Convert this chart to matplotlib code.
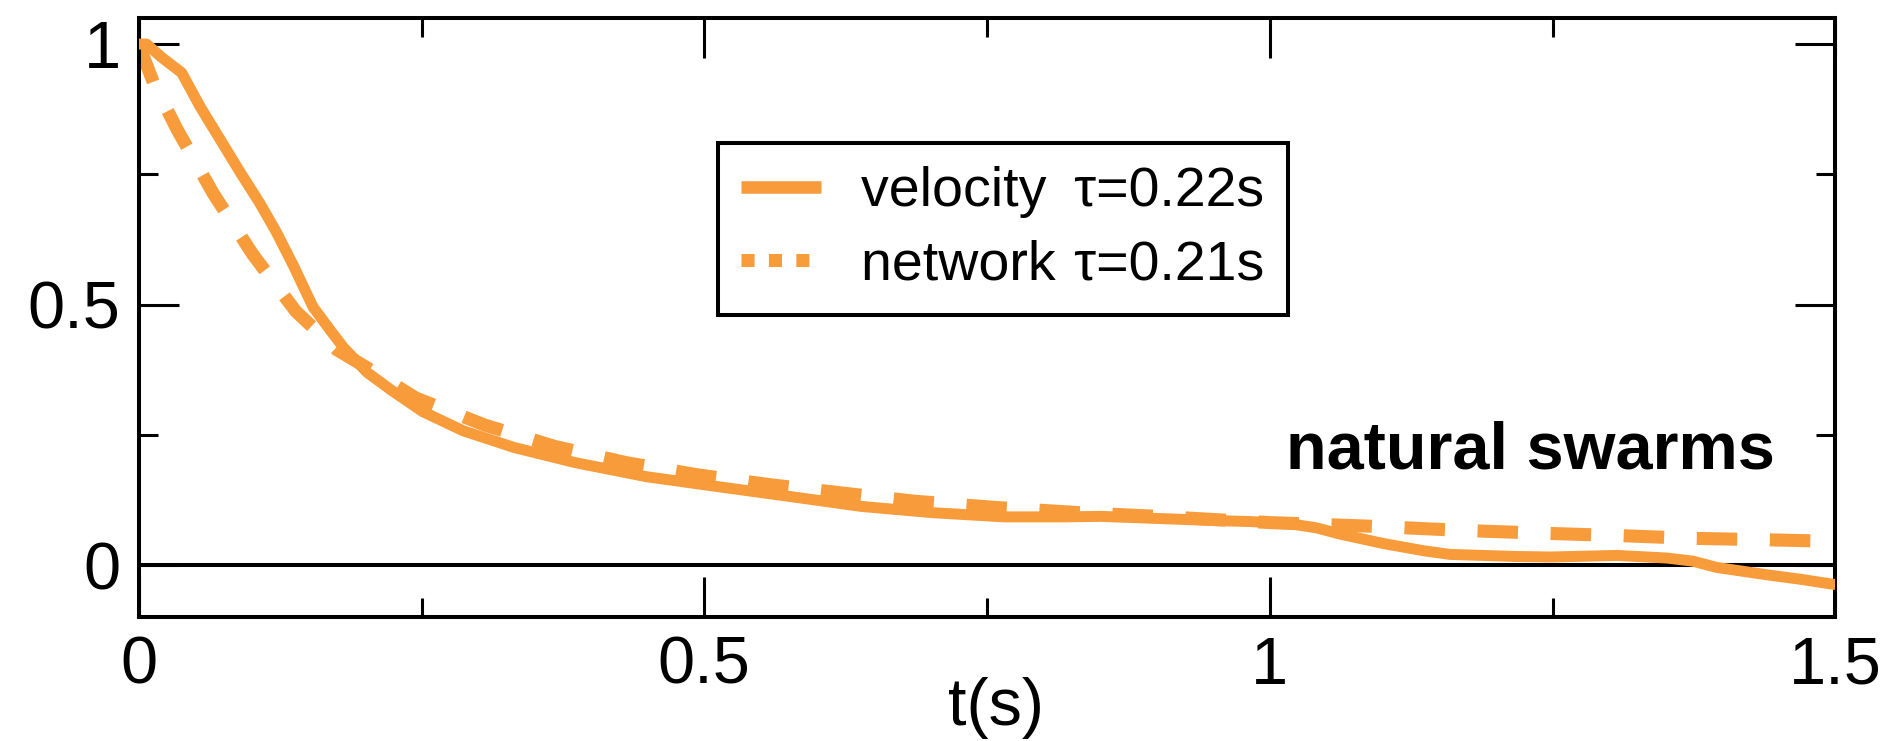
import matplotlib
matplotlib.use('Agg')
import matplotlib.pyplot as plt
from matplotlib.lines import Line2D

plt.rcParams['font.family'] = ['Liberation Sans', 'DejaVu Sans']

# values
t_vel = [0, 0.007, 0.02, 0.038, 0.054, 0.072, 0.09, 0.107, 0.122, 0.137, 0.154,
         0.169, 0.181, 0.202, 0.224, 0.251, 0.287, 0.332, 0.386, 0.449, 0.512,
         0.576, 0.639, 0.702, 0.765, 0.819, 0.85, 0.90, 0.95, 0.983, 1.02, 1.041,
         1.062, 1.10, 1.136, 1.159, 1.218, 1.248, 1.307, 1.351, 1.374, 1.395,
         1.439, 1.47, 1.5]
c_vel = [1.0, 1.0, 0.975, 0.945, 0.881, 0.817, 0.753, 0.695, 0.638, 0.574, 0.496,
         0.452, 0.418, 0.37, 0.335, 0.295, 0.258, 0.226, 0.197, 0.170, 0.151,
         0.132, 0.113, 0.101, 0.093, 0.093, 0.094, 0.09, 0.086, 0.084, 0.079, 0.072,
         0.060, 0.042, 0.028, 0.021, 0.017, 0.016, 0.019, 0.014, 0.008, -0.004,
         -0.018, -0.027, -0.037]

t_net = [0, 0.013, 0.034, 0.066, 0.101, 0.139, 0.175, 0.205, 0.245, 0.306, 0.368,
         0.431, 0.493, 0.557, 0.621, 0.686, 0.758, 0.832, 0.9, 1.0, 1.09, 1.17,
         1.25, 1.31, 1.37, 1.44, 1.5]
c_net = [1.0, 0.926, 0.836, 0.713, 0.596, 0.487, 0.414, 0.375, 0.321, 0.269, 0.228,
         0.197, 0.174, 0.155, 0.139, 0.123, 0.111, 0.101, 0.094, 0.082, 0.075, 0.067,
         0.061, 0.057, 0.052, 0.049, 0.046]

labels = ['velocity\u2002\u03c4=0.22s', 'network\u2004\u03c4=0.21s']
xticks = [0, 0.5, 1, 1.5]
xticklabels = ['0', '0.5', '1', '1.5']
yticks = [0, 0.5, 1]
yticklabels = ['0', '0.5', '1']

orange = '#f79b3b'

fig = plt.figure(figsize=(18.91, 7.41), dpi=100)
ax = fig.add_axes([0.07335, 0.1667, 0.8973, 0.809])

ax.axhline(0, color='black', lw=2.9, zorder=1)
ax.plot(t_vel, c_vel, color=orange, lw=7.9, solid_capstyle='butt',
        solid_joinstyle='round', zorder=3)
ax.plot(t_net, c_net, color=orange, lw=9.4, dashes=(3.1, 2.5),
        dash_capstyle='butt', zorder=2)

ax.set_xlim(0, 1.5)
ax.set_ylim(-0.1, 1.05)
ax.set_xticks(xticks)
ax.set_xticklabels(xticklabels)
ax.set_xticks([0.25, 0.75, 1.25], minor=True)
ax.set_yticks(yticks)
ax.set_yticklabels(yticklabels)
ax.set_yticks([0.25, 0.75], minor=True)
ax.tick_params(which='both', direction='in', top=True, right=True, width=2.2)
ax.tick_params(which='major', length=29, labelsize=48, pad=13)
ax.tick_params(which='minor', length=14)
for s in ax.spines.values():
    s.set_linewidth(2.9)

ax.set_xlabel('t(s)', fontsize=48)
ax.xaxis.set_label_coords(0.505, -0.1)

ax.text(0.964, 0.249, 'natural swarms', transform=ax.transAxes, ha='right',
        va='baseline', fontsize=48, fontweight='bold')

handles = [Line2D([], [], color=orange, lw=9, solid_capstyle='butt'),
           Line2D([], [], color=orange, lw=9.4, dashes=(1, 1.1),
                  dash_capstyle='butt')]
leg = fig.legend(handles, labels, loc='upper left',
                 bbox_to_anchor=(718 / 1891, 1 - 143 / 741),
                 bbox_transform=fig.transFigure, borderaxespad=0,
                 fontsize=40, handlelength=1.44, handletextpad=0.72,
                 borderpad=0.42, labelspacing=0.38, fancybox=False,
                 edgecolor='black', framealpha=1)
leg.get_frame().set_linewidth(2.9)

fig.savefig('out.png', dpi=100)
